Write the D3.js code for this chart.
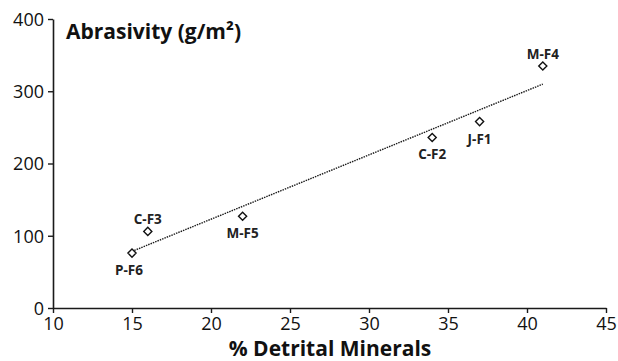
<!DOCTYPE html>
<html>
<head>
<meta charset="utf-8">
<script src="https://cdn.jsdelivr.net/npm/d3@7/dist/d3.min.js"></script>
<style>
  body { margin: 0; background: #fff; }
  svg { display: block; font-family: 'Open Sans', sans-serif; }
</style>
</head>
<body>
<div class="chart"></div>
<script>
// sample data
const samples = ['P-F6', 'C-F3', 'M-F5', 'C-F2', 'J-F1', 'M-F4'];
const detrital = [15, 16, 22, 34, 37, 41];
const abrasivity = [76, 106, 127, 236, 258, 335];
// label placement: 'above' or 'below' the marker
const labelPos = ['below', 'above', 'below', 'below', 'below', 'above'];
const xTicks = [10, 15, 20, 25, 30, 35, 40, 45];
const yTicks = [0, 100, 200, 300, 400];

const WIDTH = 618, HEIGHT = 361;
const MARGINS = {top: 19, right: 12, bottom: 53, left: 53};

const svg = d3.select('.chart')
  .append('svg')
  .attr('width', WIDTH)
  .attr('height', HEIGHT);

const xRange = d3.scaleLinear()
  .domain([10, 45])
  .range([MARGINS.left, WIDTH - MARGINS.right]);
const yRange = d3.scaleLinear()
  .domain([0, 400])
  .range([HEIGHT - MARGINS.bottom, MARGINS.top]);

// axes
const xAxisg = svg.append('g')
  .attr('transform', 'translate(0,' + yRange(0) + ')')
  .call(d3.axisBottom(xRange).tickValues(xTicks).tickSize(5).tickSizeOuter(0).tickPadding(2));
const yAxisg = svg.append('g')
  .attr('transform', 'translate(' + xRange(10) + ',0)')
  .call(d3.axisLeft(yRange).tickValues(yTicks).tickSize(5).tickSizeOuter(0).tickPadding(4));

[xAxisg, yAxisg].forEach(g => {
  g.selectAll('path').attr('stroke', '#1a1a1a').attr('stroke-width', 1.6);
  g.selectAll('line').attr('stroke', '#1a1a1a').attr('stroke-width', 1.4);
  g.selectAll('text')
    .style('font-family', '"Open Sans", sans-serif')
    .style('font-size', '18px')
    .attr('fill', '#111');
});
xAxisg.selectAll('.tick text').attr('dy', '0.85em');
yAxisg.selectAll('.tick text').attr('dy', '0.36em');

// linear trend line (least squares over the samples)
const mx = d3.mean(detrital), my = d3.mean(abrasivity);
const sxy = d3.sum(detrital, (x, i) => (x - mx) * (abrasivity[i] - my));
const sxx = d3.sum(detrital, x => (x - mx) * (x - mx));
const slope = sxy / sxx;
const intercept = my - slope * mx;
const xMin = d3.min(detrital), xMax = d3.max(detrital);

svg.append('line')
  .attr('x1', xRange(xMin))
  .attr('y1', yRange(slope * xMin + intercept))
  .attr('x2', xRange(xMax))
  .attr('y2', yRange(slope * xMax + intercept))
  .attr('stroke', '#1a1a1a')
  .attr('stroke-width', 1.4)
  .attr('stroke-dasharray', '1.5,1');

// diamond markers
const diamond = d3.symbol().type(d3.symbolDiamond2).size(42);
svg.selectAll('.pt')
  .data(samples)
  .enter()
  .append('path')
  .attr('class', 'pt')
  .attr('d', diamond)
  .attr('transform', (d, i) => 'translate(' + xRange(detrital[i]) + ',' + yRange(abrasivity[i]) + ')')
  .attr('fill', '#fff')
  .attr('stroke', '#111')
  .attr('stroke-width', 1.4);

// sample labels
svg.selectAll('.name')
  .data(samples)
  .enter()
  .append('text')
  .attr('class', 'name')
  .text(d => d)
  .attr('x', (d, i) => xRange(detrital[i]) + (d === 'P-F6' ? -3 : 0))
  .attr('y', (d, i) => yRange(abrasivity[i]) + (labelPos[i] === 'above' ? -7 : 22))
  .attr('text-anchor', 'middle')
  .style('font-size', '13.5px')
  .style('font-weight', 'bold')
  .attr('fill', '#222');

// titles
svg.append('text')
  .attr('x', 66)
  .attr('y', 39)
  .style('font-size', '21px')
  .style('font-weight', 'bold')
  .attr('fill', '#111')
  .text('Abrasivity (g/m²)');

svg.append('text')
  .attr('x', 330)
  .attr('y', 355.5)
  .attr('text-anchor', 'middle')
  .style('font-size', '21px')
  .style('font-weight', 'bold')
  .attr('fill', '#111')
  .text('% Detrital Minerals');
</script>
</body>
</html>
